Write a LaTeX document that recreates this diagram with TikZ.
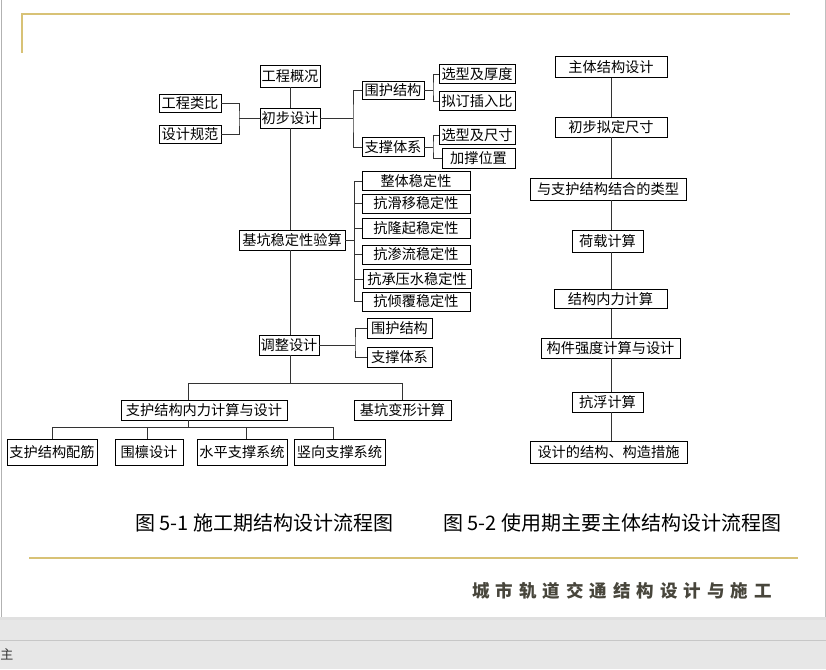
\documentclass[tikz,border=0pt]{standalone}
\usepackage{fontspec}
\newfontfamily\cjk{Noto Sans CJK SC}
\usetikzlibrary{calc}
\definecolor{gold}{RGB}{216,194,118}
\definecolor{footc}{RGB}{72,70,60}
\definecolor{bggray}{RGB}{231,231,231}
\begin{document}
\begin{tikzpicture}[x=1pt,y=-1pt,
  box/.style={draw=black, line width=0.8pt, fill=white, inner xsep=1.5pt, inner ysep=0pt,
    minimum height=19pt, font=\cjk\fontsize{14.2}{16}\selectfont, text=black},
  conn/.style={draw=black!80, line width=0.8pt},
  captext/.style={font=\cjk\fontsize{20}{24}\selectfont, text=black, inner sep=0pt},
  foot/.style={font=\cjk\bfseries\fontsize{17.5}{20}\selectfont, text=footc, inner sep=0pt},
  goldline/.style={draw=gold, line width=2pt}
]
\useasboundingbox (0,0) rectangle (826,669);
% page
\fill[white] (0,0) rectangle (826,617);
\fill[bggray] (0,617) rectangle (826,669);
\fill[black!12] (0,617) rectangle (826,620);
\draw[black!22, line width=0.8pt] (0,640) -- (826,640);
\draw[black!30, line width=1pt] (1,0) -- (1,617);
\draw[black!25, line width=1pt] (825,0) -- (825,617);
\node[font=\cjk\fontsize{13}{15}\selectfont, text=black!80, inner sep=0pt] (zhu) at (7,654) {主};
% gold rules
\draw[goldline] (22,53) -- (22,14) -- (790,14);
\draw[goldline] (29,558) -- (798,558);

% ---------------- left diagram ----------------
\node[box, minimum width=60pt, minimum height=22pt] (gcgk) at (290,76) {工程概况};
\node[box, minimum width=62pt, minimum height=18pt] (gclb) at (190,103) {工程类比};
\node[box, minimum width=62pt, minimum height=18pt] (sjgf) at (190,134) {设计规范};
\node[box, minimum width=60pt, minimum height=20pt] (cbsj) at (290,118) {初步设计};
\node[box, minimum width=62pt, minimum height=18pt] (whjg) at (393,90) {围护结构};
\node[box, minimum width=62pt, minimum height=19pt] (zctx) at (393,147) {支撑体系};
\node[box, minimum width=76pt] (xxhd) at (477,74) {选型及厚度};
\node[box, minimum width=76pt] (ndcr) at (477,101) {拟订插入比};
\node[box, minimum width=76pt] (xxcc) at (477,135) {选型及尺寸};
\node[box, minimum width=73pt, minimum height=20pt] (jcwz) at (478.5,158) {加撑位置};

\node[box, minimum width=106pt, minimum height=20pt] (jkwd) at (292,240) {基坑稳定性验算};
\node[box, minimum width=108pt] (s1) at (416,181) {整体稳定性};
\node[box, minimum width=108pt] (s2) at (416,203.5) {抗滑移稳定性};
\node[box, minimum width=108pt, minimum height=20pt] (s3) at (416,228) {抗隆起稳定性};
\node[box, minimum width=108pt] (s4) at (416,254.5) {抗渗流稳定性};
\node[box, minimum width=108pt] (s5) at (417,279) {抗承压水稳定性};
\node[box, minimum width=108pt] (s6) at (416,301.5) {抗倾覆稳定性};

\node[box, minimum width=60pt, minimum height=20pt] (tzsj) at (289,345) {调整设计};
\node[box, minimum width=65pt, minimum height=20pt] (wh2) at (399.5,328) {围护结构};
\node[box, minimum width=65pt, minimum height=20pt] (zc2) at (399.5,357) {支撑体系};

\node[box, minimum width=166pt, minimum height=20pt] (zhjg) at (204,410) {支护结构内力计算与设计};
\node[box, minimum width=97pt, minimum height=20pt] (jkbx) at (402.5,410) {基坑变形计算};
\node[box, minimum width=90pt, minimum height=26pt] (zjpj) at (52,452) {支护结构配筋};
\node[box, minimum width=68pt, minimum height=26pt] (wlsj) at (149,452) {围檩设计};
\node[box, minimum width=90pt, minimum height=26pt] (spzc) at (242,452) {水平支撑系统};
\node[box, minimum width=91pt, minimum height=26pt] (sxzc) at (339.5,452) {竖向支撑系统};

% connectors (left)
\draw[conn] (gcgk.south) -- (cbsj.north);
\coordinate (lb) at (239,118);
\draw[conn] (gclb.east) -| (lb) |- (sjgf.east);
\draw[conn] (lb) -- (cbsj.west);
\coordinate (rb) at (353,118);
\draw[conn] (cbsj.east) -- (rb);
\draw[conn] (whjg.west) -| (rb) |- (zctx.west);
\coordinate (wb) at (433,90);
\draw[conn] (whjg.east) -- (wb);
\draw[conn] (xxhd.west) -| (wb) |- (ndcr.west);
\coordinate (zb) at (433,147);
\draw[conn] (zctx.east) -- (zb);
\draw[conn] (xxcc.west) -| (zb) |- (jcwz.west);

\draw[conn] (cbsj.south) -- (cbsj.south |- jkwd.north);
\coordinate (sb) at (354,240);
\draw[conn] (jkwd.east) -- (sb);
\foreach \s in {s1,s2,s3,s4,s5,s6} \draw[conn] (sb) |- (\s.west);

\draw[conn] (cbsj.south |- jkwd.south) -- (cbsj.south |- tzsj.north);
\coordinate (tb) at (355,345);
\draw[conn] (tzsj.east) -- (tb);
\draw[conn] (wh2.west) -| (tb) |- (zc2.west);

\coordinate (m0) at (290,383);
\coordinate (m1) at (188,383);
\coordinate (m2) at (402.5,383);
\draw[conn] (cbsj.south |- tzsj.south) -- (m0);
\draw[conn] (m1) -- (m2);
\draw[conn] (m1) -- (m1 |- zhjg.north);
\draw[conn] (m2) -- (jkbx.north);
\coordinate (n0) at (188,427);
\coordinate (n1) at (52,427);
\coordinate (n2) at (147,427);
\coordinate (n3) at (246,427);
\coordinate (n4) at (333,427);
\draw[conn] (n0 |- zhjg.south) -- (n0);
\draw[conn] (n1) -- (n4);
\draw[conn] (n1) -- (zjpj.north);
\draw[conn] (n2) -- (n2 |- wlsj.north);
\draw[conn] (n3) -- (n3 |- spzc.north);
\draw[conn] (n4) -- (n4 |- sxzc.north);

% ---------------- right diagram ----------------
\node[box, minimum width=112pt, minimum height=21pt] (r1) at (611,67) {主体结构设计};
\node[box, minimum width=112pt, minimum height=20pt] (r2) at (611,127) {初步拟定尺寸};
\node[box, minimum width=156pt, minimum height=22pt] (r3) at (608,189) {与支护结构结合的类型};
\node[box, minimum width=71pt, minimum height=22pt] (r4) at (607.5,241) {荷载计算};
\node[box, minimum width=113pt, minimum height=19pt] (r5) at (610.5,299) {结构内力计算};
\node[box, minimum width=139pt, minimum height=20pt] (r6) at (610.5,348) {构件强度计算与设计};
\node[box, minimum width=71pt, minimum height=20pt] (r7) at (607.5,402) {抗浮计算};
\node[box, minimum width=157pt, minimum height=22pt] (r8) at (608.5,452) {设计的结构、构造措施};
\draw[conn] (r1.south) -- (r1.south |- r2.north);
\draw[conn] (r1.south |- r2.south) -- (r1.south |- r3.north);
\draw[conn] (r1.south |- r3.south) -- (r1.south |- r4.north);
\draw[conn] (r1.south |- r4.south) -- (r1.south |- r5.north);
\draw[conn] (r1.south |- r5.south) -- (r1.south |- r6.north);
\draw[conn] (r1.south |- r6.south) -- (r1.south |- r7.north);
\draw[conn] (r1.south |- r7.south) -- (r1.south |- r8.north);

% captions
\node[captext, anchor=west] (cap1) at (135,523) {图 5-1 施工期结构设计流程图};
\node[captext, anchor=west] (cap2) at (443,523) {图 5-2 使用期主要主体结构设计流程图};

% footer
\foreach \c [count=\i from 0] in {城,市,轨,道,交,通,结,构,设,计,与,施,工}
  \node[foot] (f\i) at ({481+23.5*\i},591) {\c};
\end{tikzpicture}
\end{document}
